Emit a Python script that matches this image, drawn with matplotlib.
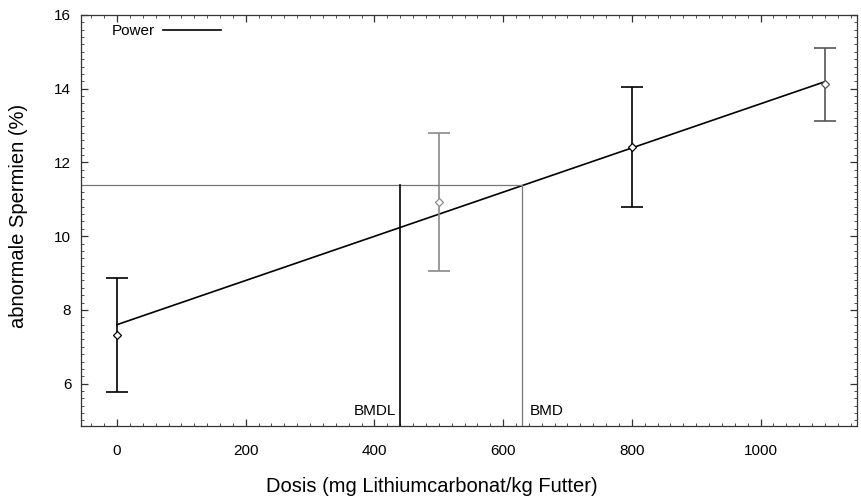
import matplotlib
matplotlib.use("Agg")
import matplotlib.pyplot as plt
from matplotlib.ticker import MultipleLocator

plt.rcParams['font.family'] = ['Liberation Sans', 'DejaVu Sans']

# observed group means with error bars
dose = [0, 500, 800, 1100]
mean = [7.32, 10.92, 12.41, 14.12]
lower = [5.77, 9.045, 10.78, 13.13]
upper = [8.855, 12.79, 14.05, 15.10]
bar_colors = ['black', '#8a8a8a', 'black', '#555555']

# fitted power model (practically linear here)
fit_x = [0, 1100]
fit_y = [7.6, 14.19]

# benchmark dose results
bmr_level = 11.38
bmd = 630
bmdl = 440

xlim = (-56, 1150)
ylim = (4.85, 16)

fig = plt.figure(figsize=(8.61, 4.96), dpi=100)
ax = fig.add_axes([0.0941, 0.1411, 0.9013, 0.8287])

ax.plot(fit_x, fit_y, color='black', lw=1.2, label='Power')

for x, m, lo, hi, c in zip(dose, mean, lower, upper, bar_colors):
    ax.errorbar([x], [m], yerr=[[m - lo], [hi - m]], fmt='none', ecolor=c,
                elinewidth=1.2, capsize=8, capthick=1.2)
    ax.plot([x], [m], marker='D', ms=4.5, mfc='white', mec=c, mew=0.9,
            linestyle='none')

ax.plot([xlim[0], bmd], [bmr_level, bmr_level], color='#777777', lw=0.9)
ax.plot([bmdl, bmdl], [ylim[0], bmr_level], color='black', lw=1.2)
ax.plot([bmd, bmd], [ylim[0], bmr_level], color='#777777', lw=0.9)

ax.text(bmdl - 6, 5.25, 'BMDL', ha='right', va='center', fontsize=11)
ax.text(bmd + 11, 5.25, 'BMD', ha='left', va='center', fontsize=11)

ax.set_xlim(*xlim)
ax.set_ylim(*ylim)

ax.xaxis.set_major_locator(MultipleLocator(200))
ax.xaxis.set_minor_locator(MultipleLocator(20))
ax.yaxis.set_major_locator(MultipleLocator(2))
ax.yaxis.set_minor_locator(MultipleLocator(0.2))
ax.tick_params(which='both', direction='in', top=True, right=True,
               color='#333333', labelsize=11)
ax.tick_params(which='major', length=5, width=0.9)
ax.tick_params(which='minor', length=2.5, width=0.6)
ax.tick_params(axis='x', pad=13)
ax.tick_params(axis='y', pad=7)

for s in ax.spines.values():
    s.set_linewidth(0.9)
    s.set_color('#333333')

ax.set_xlabel('Dosis (mg Lithiumcarbonat/kg Futter)', fontsize=14.5, va='center')
ax.xaxis.set_label_coords(0.452, -0.146)
ax.set_ylabel('abnormale Spermien (%)', fontsize=14.5, va='center')
ax.yaxis.set_label_coords(-0.081, 0.51)

leg = ax.legend(loc='upper left', frameon=False, fontsize=11, markerfirst=False,
                handlelength=3.8, handletextpad=0.5, borderaxespad=0.2,
                bbox_to_anchor=(0.028, 1.0))

fig.savefig('out.png', dpi=100)
